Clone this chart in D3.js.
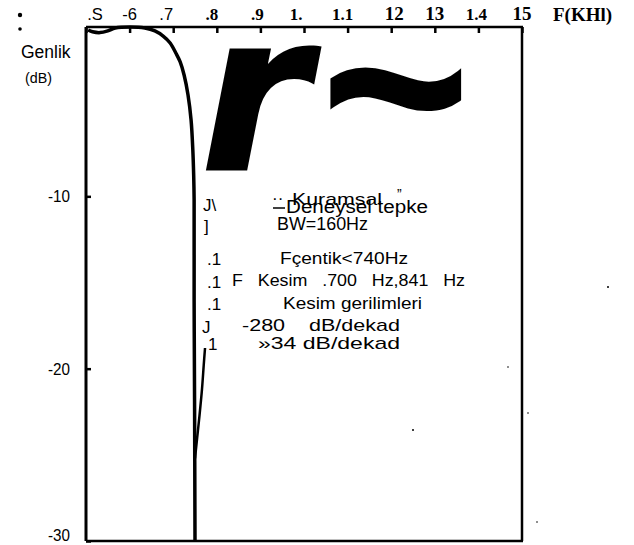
<!DOCTYPE html>
<html>
<head>
<meta charset="utf-8">
<script src="https://cdn.jsdelivr.net/npm/d3@7"></script>
<style>
  html, body { margin: 0; padding: 0; background: #fff; }
  svg { display: block; }
  .sans { font-family: "Liberation Sans", Arial, sans-serif; fill: #000; white-space: pre; }
  .serif { font-family: "Liberation Serif", "Times New Roman", serif; font-weight: bold; fill: #000; }
</style>
</head>
<body>
<svg id="chart" width="634" height="545"></svg>
<script>
// ---------------- DATA ----------------
const xTickValues = [0.5, 0.6, 0.7, 0.8, 0.9, 1.0, 1.1, 1.2, 1.3, 1.4, 1.5];
const xTickLabels = [".S", "-6", ".7", ".8", ".9", "1.", "1.1", "12", "13", "1.4", "15"];
const xAxisTitle = "F(KHl)";
const yTickValues = [-10, -20, -30];
const yTickLabels = ["-10", "-20", "-30"];
const yAxisTitle = ["Genlik", "(dB)"];

// measured ("Deneysel") response, frequency in kHz, gain in dB
const deneyselF  = [0.505, 0.515, 0.532, 0.550, 0.567, 0.601, 0.635, 0.658, 0.677, 0.693, 0.706, 0.716, 0.725, 0.734, 0.741, 0.745, 0.747, 0.748, 0.748, 0.749, 0.750];
const deneyselDb = [-0.35, -0.45, -0.50, -0.40, -0.23, -0.17, -0.23, -0.40, -0.70, -1.10, -1.68, -2.20, -2.96, -4.12, -5.57, -7.30, -8.8, -10.2, -16.0, -21.8, -30.0];
// theoretical ("Kuramsal") response tail visible near the bottom
const kuramselF  = [0.773, 0.770, 0.766, 0.760, 0.755, 0.750];
const kuramselDb = [-18.8, -19.8, -21.2, -22.8, -24.0, -25.2];

const legendLines = ["Kuramsal", "Deneysel tepke", "BW=160Hz"];
const infoLines = ["Fçentik<740Hz", "F   Kesim   .700   Hz,841   Hz", "Kesim gerilimleri", "-280    dB/dekad", "»34 dB/dekad"];
const marginMarks = ["J\\", "]", ".1", ".1", ".1", "J", "1"];

// ---------------- LAYOUT ----------------
const svg = d3.select("#chart");
const pL = 86, pR = 522, pT = 27, pB = 541;
const x = d3.scaleLinear().domain([0.5, 1.5]).range([pL, pR]);
const y = d3.scaleLinear().domain([-30, 0]).range([pB, 24]);

// big scanned glyphs
svg.append("text")
  .attr("x", 201).attr("y", 169)
  .attr("font-family", "DejaVu Sans").attr("font-size", 218)
  .attr("font-weight", "bold").attr("font-style", "oblique")
  .attr("fill", "#000").attr("stroke", "#000").attr("stroke-width", 3)
  .text("r");
svg.append("text")
  .attr("x", 318).attr("y", 172)
  .attr("font-family", "Liberation Sans").attr("font-size", 250)
  .attr("font-weight", "bold").attr("font-style", "italic")
  .attr("fill", "#000").attr("stroke", "#000").attr("stroke-width", 4)
  .text("~");

// frame
const frame = svg.append("g").attr("stroke", "#000").attr("fill", "none");
frame.append("line").attr("x1", pL).attr("x2", pR + 1).attr("y1", pT).attr("y2", pT).attr("stroke-width", 2.5);
frame.append("line").attr("x1", pL).attr("x2", pL).attr("y1", pT).attr("y2", pB).attr("stroke-width", 3);
frame.append("line").attr("x1", pR).attr("x2", pR).attr("y1", pT).attr("y2", pB).attr("stroke-width", 2.5);
frame.append("line").attr("x1", pL).attr("x2", pR + 1).attr("y1", pB).attr("y2", pB).attr("stroke-width", 2.5);

// top axis ticks (pointing down)
const xAxis = d3.axisTop(x).tickValues(xTickValues).tickSize(-6).tickFormat("");
const gx = svg.append("g").attr("transform", `translate(0,${pT})`).call(xAxis);
gx.select(".domain").remove();
gx.selectAll(".tick line").attr("stroke", "#000").attr("stroke-width", 2.5);

// top tick labels (mixed fonts as in the scan)
const labelNudge = [9, 0, -7, -5, -3, -8, -5, 3, 0, -2, 0];
xTickValues.forEach((v, i) => {
  const sans = i < 3;
  svg.append("text")
    .attr("class", sans ? "sans" : "serif")
    .attr("x", x(v) + labelNudge[i]).attr("y", 20)
    .attr("text-anchor", "middle")
    .attr("font-size", sans ? 16.5 : (i >= 7 && i !== 9 ? 19 : 17))
    .text(xTickLabels[i]);
});
svg.append("text").attr("class", "serif")
  .attr("x", 553).attr("y", 21).attr("font-size", 19)
  .text(xAxisTitle);

// left axis ticks
const yAxis = d3.axisLeft(y).tickValues(yTickValues).tickSize(-5).tickFormat("");
const gy = svg.append("g").attr("transform", `translate(${pL},0)`).call(yAxis);
gy.select(".domain").remove();
gy.selectAll(".tick line").attr("stroke", "#000").attr("stroke-width", 2.5);

yTickValues.forEach((v, i) => {
  svg.append("text").attr("class", "sans")
    .attr("x", 48).attr("y", Math.min(y(v), 535)).attr("dy", "0.35em")
    .attr("font-size", 17).attr("textLength", 22).attr("lengthAdjust", "spacingAndGlyphs")
    .text(yTickLabels[i]);
});
svg.append("text").attr("class", "sans").attr("x", 21).attr("y", 58)
  .attr("font-size", 17.5).text(yAxisTitle[0]);
svg.append("text").attr("class", "sans").attr("x", 25).attr("y", 83)
  .attr("font-size", 15).attr("textLength", 27).attr("lengthAdjust", "spacingAndGlyphs").text(yAxisTitle[1]);

// curves
const line = d3.line().x(d => x(d[0])).y(d => y(d[1])).curve(d3.curveCatmullRom.alpha(0.5));
svg.append("path")
  .datum(deneyselF.map((f, i) => [f, deneyselDb[i]]))
  .attr("d", line).attr("fill", "none").attr("stroke", "#000")
  .attr("stroke-width", 3.5).attr("stroke-linejoin", "round");
svg.append("path")
  .datum(kuramselF.map((f, i) => [f, kuramselDb[i]]))
  .attr("d", line).attr("fill", "none").attr("stroke", "#000")
  .attr("stroke-width", 2.5);

// legend / info texts
const legendX = 272;
svg.append("text").attr("class", "sans").attr("x", legendX).attr("y", 204).attr("font-size", 17)
  .text("\u00b7\u00b7");
svg.append("text").attr("class", "sans").attr("x", 292).attr("y", 205).attr("font-size", 17)
  .attr("textLength", 90).attr("lengthAdjust", "spacingAndGlyphs").text(legendLines[0]);
svg.append("text").attr("class", "sans").attr("x", 397).attr("y", 199).attr("font-size", 14).text("\u201d");
svg.append("line").attr("x1", legendX + 1).attr("x2", legendX + 13).attr("y1", 208).attr("y2", 208)
  .attr("stroke", "#000").attr("stroke-width", 1.5);
svg.append("text").attr("class", "sans").attr("x", 286).attr("y", 213).attr("font-size", 18)
  .attr("textLength", 142).attr("lengthAdjust", "spacingAndGlyphs").text(legendLines[1]);
svg.append("text").attr("class", "sans").attr("x", 277).attr("y", 230).attr("font-size", 18)
  .attr("textLength", 91).attr("lengthAdjust", "spacingAndGlyphs").text(legendLines[2]);

const infoPos = [[280, 264, 128], [232, 286, 233], [283, 309, 139], [242, 331, 158], [258, 349, 142]];
infoLines.forEach((t, i) => {
  svg.append("text").attr("class", "sans")
    .attr("x", infoPos[i][0]).attr("y", infoPos[i][1])
    .attr("font-size", 17)
    .attr("textLength", infoPos[i][2]).attr("lengthAdjust", "spacingAndGlyphs")
    .text(t);
});

// scan artifacts next to the curve
const markPos = [[203, 211], [204, 232], [207, 265], [207, 288], [207, 310], [202, 333], [208, 350]];
marginMarks.forEach((t, i) => {
  svg.append("text").attr("class", "sans")
    .attr("x", markPos[i][0]).attr("y", markPos[i][1])
    .attr("font-size", 17).text(t);
});

// small specks
[[20, 15, 2.2], [20, 29, 1.8], [608, 287, 1], [508, 367, 0.8], [528, 413, 0.8], [413, 430, 1], [537, 522, 0.8]]
  .forEach(p => svg.append("circle").attr("cx", p[0]).attr("cy", p[1]).attr("r", p[2]).attr("fill", "#000"));
</script>
</body>
</html>
